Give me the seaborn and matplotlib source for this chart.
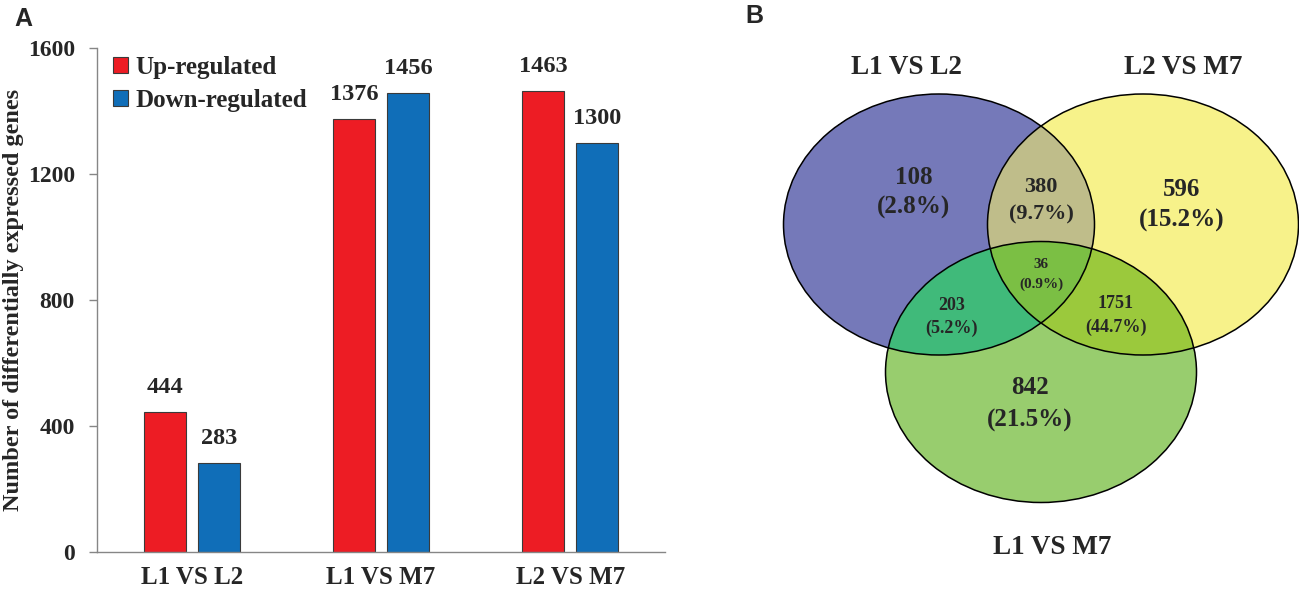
import numpy as np
import pandas as pd
import matplotlib
matplotlib.use("Agg")
import matplotlib.pyplot as plt
from matplotlib.patches import Ellipse
import seaborn as sns

# ---- data: panel A (bar chart) ----
comparisons = ["L1 VS L2", "L1 VS M7", "L2 VS M7"]
up_regulated = [444, 1376, 1463]
down_regulated = [283, 1456, 1300]
y_ticks = [0, 400, 800, 1200, 1600]

# ---- data: panel B (Venn) ----
venn_names = ["L1 VS L2", "L2 VS M7", "L1 VS M7"]
# region key = membership in (L1 VS L2, L2 VS M7, L1 VS M7)
venn_regions = ["100", "010", "001", "110", "101", "011", "111"]
venn_counts = [108, 596, 842, 380, 203, 1751, 36]

W, H = 1299, 589

sns.set_style("white")
plt.rcParams["font.family"] = ["Liberation Serif", "DejaVu Serif"]
plt.rcParams["font.weight"] = "bold"
plt.rcParams["axes.labelweight"] = "bold"

fig = plt.figure(figsize=(W / 100, H / 100), dpi=100)

# pixel-coordinate overlay for the Venn diagram and panel letters
vx = fig.add_axes([0, 0, 1, 1])
vx.set_xlim(0, W)
vx.set_ylim(H, 0)
vx.axis("off")

# ============================================================
# A: bar chart
# ============================================================
df = pd.DataFrame({
    "comparison": comparisons * 2,
    "count": up_regulated + down_regulated,
    "direction": ["Up-regulated"] * len(comparisons) + ["Down-regulated"] * len(comparisons),
})

ax = fig.add_axes([97 / W, 1 - 552 / H, 568 / W, 504 / H])
sns.barplot(data=df, x="comparison", y="count", hue="direction",
            palette=["#ED1C24", "#106EB8"], saturation=1, errorbar=None,
            width=0.57, gap=0.22, edgecolor="#3a3a3a", linewidth=0.8, ax=ax)

for cont in ax.containers:
    ax.bar_label(cont, padding=10, fontsize=17.5, fontweight="bold")

ax.set_xlim(-0.5, 2.5)
ax.set_ylim(0, 1600)
ax.set_yticks(y_ticks)
for side in ["top", "right"]:
    ax.spines[side].set_visible(False)
for side in ["left", "bottom"]:
    ax.spines[side].set_color("#868686")
    ax.spines[side].set_linewidth(1)
ax.tick_params(axis="y", left=True, length=6, width=1, color="#868686", pad=10, labelsize=17)
ax.tick_params(axis="x", bottom=False, length=0, pad=10, labelsize=18)
ax.set_xlabel("")
ax.set_ylabel("Number of differentially expressed genes", fontsize=17.5, fontweight="bold")
ax.yaxis.set_label_coords(-0.128, 0.5)

handles, labels = ax.get_legend_handles_labels()
ax.legend(handles, labels, loc="upper left", bbox_to_anchor=(0.028, 0.985),
          frameon=False, fontsize=18, handlelength=0.6, handleheight=0.6,
          handletextpad=0.3, labelspacing=0.4, borderaxespad=0, borderpad=0)

# ============================================================
# B: Venn diagram
# ============================================================
centers = [(939, 224.5), (1143, 224.5), (1041, 372)]
ew, eh = 311, 261
region_colors = {
    "100": "#7579B9", "010": "#F7F28A", "001": "#98CD6E",
    "110": "#BFBD8A", "101": "#40BA7A", "011": "#9BC93C", "111": "#7BBF44",
}

x0, x1, y0, y1 = 770, 1299, 85, 512
gx, gy = np.meshgrid(np.arange(x0, x1, 0.5) + 0.25, np.arange(y0, y1, 0.5) + 0.25)
inside = [((gx - cx) / (ew / 2)) ** 2 + ((gy - cy) / (eh / 2)) ** 2 <= 1 for cx, cy in centers]
img = np.zeros(gx.shape + (4,))
for key, col in region_colors.items():
    m = np.ones(gx.shape, dtype=bool)
    for i, ch in enumerate(key):
        m &= inside[i] if ch == "1" else ~inside[i]
    img[m] = matplotlib.colors.to_rgba(col)
vx.imshow(img, extent=(x0, x1, y1, y0), origin="upper", interpolation="nearest", aspect="auto")
vx.set_xlim(0, W)
vx.set_ylim(H, 0)

for cx, cy in centers:
    vx.add_patch(Ellipse((cx, cy), ew, eh, fill=False, edgecolor="black", lw=1.1))

name_pos = [(906, 67), (1183, 68), (1052, 548)]
for name, (px, py) in zip(venn_names, name_pos):
    vx.text(px, py, name, ha="center", va="center", fontsize=19.5, fontweight="bold")

total = sum(venn_counts)
region_pos = {
    "100": (914, 177, 207, 18), "010": (1182, 189, 220, 18), "001": (1030, 388, 420, 18),
    "110": (1041, 187, 214, 16), "101": (952, 306, 328, 13), "011": (1116, 303, 327, 13),
    "111": (1041, 265, 284, 11),
}
for key, cnt in zip(venn_regions, venn_counts):
    px, py1, py2, fs = region_pos[key]
    vx.text(px, py1, f"{cnt}", ha="center", va="center", fontsize=fs, fontweight="bold")
    vx.text(px, py2, f"({cnt / total * 100:.1f}%)", ha="center", va="center", fontsize=fs, fontweight="bold")

# panel letters
vx.text(23, 19, "A", ha="center", va="center", fontsize=18, fontweight="bold", family="Liberation Sans")
vx.text(754, 16, "B", ha="center", va="center", fontsize=18, fontweight="bold", family="Liberation Sans")

fig.savefig("out.png", dpi=100, facecolor="white")
